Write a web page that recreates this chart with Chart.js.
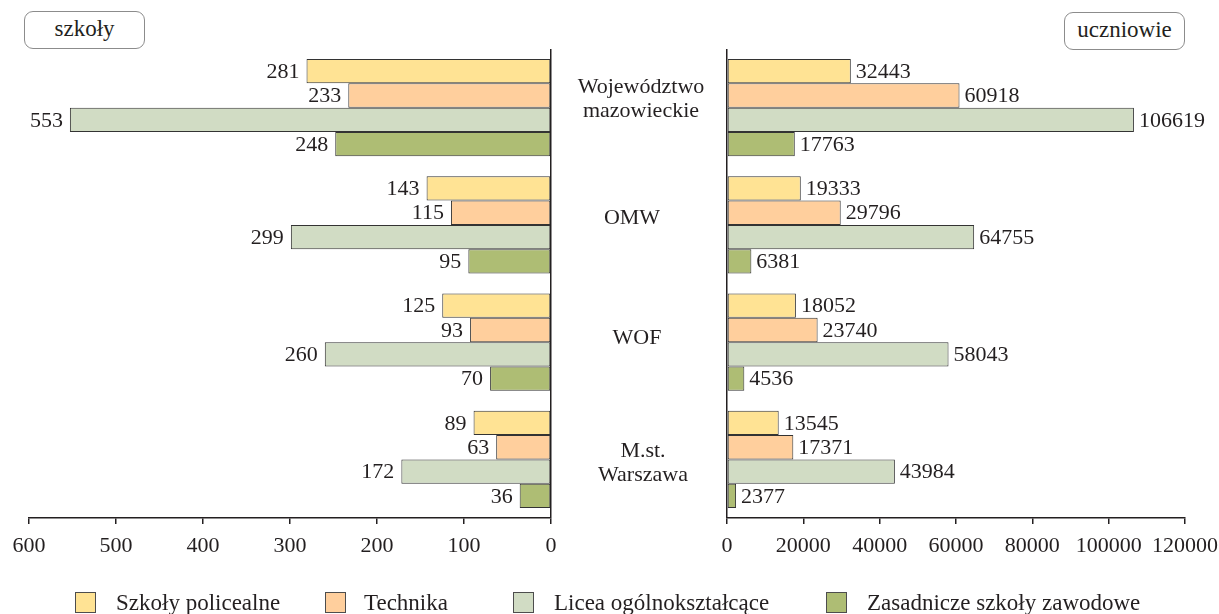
<!DOCTYPE html>
<html lang="pl">
<head>
<meta charset="utf-8">
<title>Szkoły i uczniowie</title>
<script src="https://cdn.jsdelivr.net/npm/chart.js@4.4.1/dist/chart.umd.min.js"></script>
<style>
  html, body { margin: 0; padding: 0; background: #fff; overflow: hidden; }
  #wrap { position: relative; width: 1219px; height: 614px; overflow: hidden;
          font-family: "Liberation Serif", "Times New Roman", serif; color: #231f20; }
  #wrap canvas { position: absolute; left: 0; top: 0; }
  .tag { position: absolute; box-sizing: border-box; border: 1px solid #8c8c8c; border-radius: 9px;
         font-size: 23px; text-align: center; line-height: 34px; background: #fff; }
  .leg { position: absolute; top: 590px; font-size: 23px; line-height: 25px; white-space: nowrap; }
  .sw { position: absolute; top: 592px; width: 21px; height: 21px; box-sizing: border-box; border: 1px solid #4d4d4d; }
</style>
</head>
<body>
<div id="wrap">
  <canvas id="schools" width="1219" height="614"></canvas>
  <canvas id="pupils" width="1300" height="614"></canvas>

  <div class="tag" style="left:24px;top:11px;width:121px;height:38px;">szkoły</div>
  <div class="tag" style="left:1064px;top:12px;width:121px;height:38px;">uczniowie</div>

  <div class="sw" style="left:75px;background:#ffe394;"></div>
  <div class="leg" style="left:116px;">Szkoły policealne</div>
  <div class="sw" style="left:325px;background:#ffcf9d;"></div>
  <div class="leg" style="left:364px;">Technika</div>
  <div class="sw" style="left:513px;background:#d1dcc4;"></div>
  <div class="leg" style="left:554px;">Licea ogólnokształcące</div>
  <div class="sw" style="left:826px;background:#aebd74;"></div>
  <div class="leg" style="left:867px;">Zasadnicze szkoły zawodowe</div>
</div>

<script>
// Areas (top to bottom)
const regions = ['Województwo mazowieckie', 'OMW', 'WOF', 'M.st. Warszawa'];
const regionLines = [['Województwo', 'mazowieckie'], ['OMW'], ['WOF'], ['M.st.', 'Warszawa']];

// School types
const schoolTypes = ['Szkoły policealne', 'Technika', 'Licea ogólnokształcące', 'Zasadnicze szkoły zawodowe'];

// Number of schools
const schoolsPolicealne = [281, 143, 125, 89];
const schoolsTechnika   = [233, 115, 93, 63];
const schoolsLicea      = [553, 299, 260, 172];
const schoolsZasadnicze = [248, 95, 70, 36];

// Number of pupils
const pupilsPolicealne = [32443, 19333, 18052, 13545];
const pupilsTechnika   = [60918, 29796, 23740, 17371];
const pupilsLicea      = [106619, 64755, 58043, 43984];
const pupilsZasadnicze = [17763, 6381, 4536, 2377];

// Axis ranges
const schoolsMax = 600, schoolsStep = 100;
const pupilsMax = 120000, pupilsStep = 20000;

const fills = ['#ffe394', '#ffcf9d', '#d1dcc4', '#aebd74'];
const ink = '#231f20';
const edge = '#333333';
const serif = '"Liberation Serif", "Times New Roman", serif';

Chart.defaults.font.family = serif;
Chart.defaults.color = ink;

function makeDatasets(series) {
  return series.map((data, i) => ({
    label: schoolTypes[i],
    data: data,
    backgroundColor: fills[i],
    borderColor: edge,
    borderWidth: 1,
    borderSkipped: false,
    barPercentage: 1,
    categoryPercentage: 0.83
  }));
}

// Value written next to the end of every bar
const valueLabels = {
  id: 'valueLabels',
  afterDatasetsDraw(chart, args, opts) {
    const ctx = chart.ctx;
    ctx.save();
    ctx.font = '22px ' + serif;
    ctx.fillStyle = ink;
    ctx.textBaseline = 'middle';
    ctx.textAlign = opts.side === 'left' ? 'right' : 'left';
    chart.data.datasets.forEach((ds, i) => {
      chart.getDatasetMeta(i).data.forEach((bar, j) => {
        const x = bar.x + (opts.side === 'left' ? -opts.gap : opts.gap);
        ctx.fillText(String(ds.data[j]), x, bar.y + 1);
      });
    });
    ctx.restore();
  }
};

// Area names in the gap between the two panels
const regionNames = {
  id: 'regionNames',
  afterDraw(chart, args, opts) {
    const ctx = chart.ctx;
    const y = chart.scales.y;
    ctx.save();
    ctx.font = '22px ' + serif;
    ctx.fillStyle = ink;
    ctx.textAlign = 'center';
    ctx.textBaseline = 'alphabetic';
    regionLines.forEach((lines, j) => {
      const cy = y.getPixelForValue(j);
      const s = opts.shift[j];
      lines.forEach((t, k) => {
        ctx.fillText(t, opts.x + s[0], cy + s[1] + k * opts.lineGap);
      });
    });
    ctx.restore();
  }
};

function xAxis(max, step, reverse) {
  return {
    type: 'linear',
    min: 0,
    max: max,
    reverse: reverse,
    ticks: {
      stepSize: step,
      font: { size: 22, family: serif },
      color: ink,
      padding: 9,
      maxRotation: 0,
      autoSkip: false,
      callback: v => String(v)
    },
    grid: {
      drawOnChartArea: true,
      color: c => (c.tick && c.tick.value === 0) ? ink : 'rgba(0,0,0,0)',
      lineWidth: 1.5,
      tickColor: ink,
      tickLength: 6,
      tickWidth: 1.5
    },
    border: { display: true, color: ink, width: 1.5 },
    afterFit: s => { s.height = 45; }
  };
}

const yAxis = { type: 'category', display: false };

new Chart(document.getElementById('schools'), {
  type: 'bar',
  data: {
    labels: regions,
    datasets: makeDatasets([schoolsPolicealne, schoolsTechnika, schoolsLicea, schoolsZasadnicze])
  },
  options: {
    indexAxis: 'y',
    responsive: false,
    animation: false,
    devicePixelRatio: 1,
    layout: { padding: { left: 29, right: 668, top: 49, bottom: 51 } },
    scales: { x: xAxis(schoolsMax, schoolsStep, true), y: yAxis },
    plugins: {
      legend: { display: false },
      tooltip: { enabled: false },
      valueLabels: { side: 'left', gap: 7 },
      regionNames: { x: 640, lineGap: 24, shift: [[1, -15], [-8, -1], [-3, 2], [3, -2]] }
    }
  },
  plugins: [valueLabels, regionNames]
});

new Chart(document.getElementById('pupils'), {
  type: 'bar',
  data: {
    labels: regions,
    datasets: makeDatasets([pupilsPolicealne, pupilsTechnika, pupilsLicea, pupilsZasadnicze])
  },
  options: {
    indexAxis: 'y',
    responsive: false,
    animation: false,
    devicePixelRatio: 1,
    layout: { padding: { left: 727, right: 115, top: 49, bottom: 51 } },
    scales: { x: xAxis(pupilsMax, pupilsStep, false), y: yAxis },
    plugins: {
      legend: { display: false },
      tooltip: { enabled: false },
      valueLabels: { side: 'right', gap: 5 }
    }
  },
  plugins: [valueLabels]
});
</script>
</body>
</html>
